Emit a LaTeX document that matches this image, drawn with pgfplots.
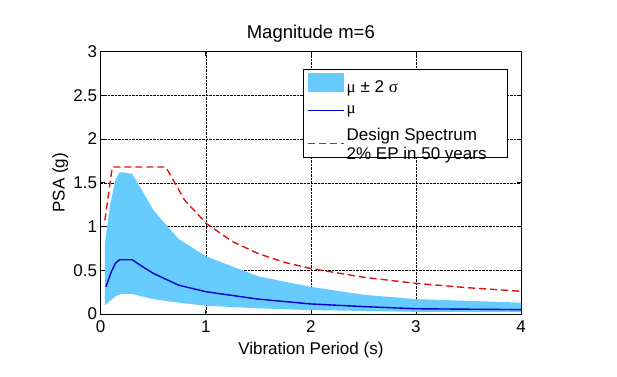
\documentclass[border=0pt]{standalone}
\usepackage{pgfplots}
\pgfplotsset{compat=1.18}
\usepackage{fontspec}
\setmainfont{Liberation Sans}
\newfontfamily\grk{Liberation Serif}
\newcommand{\lf}{\fontsize{17}{19}\selectfont}
\definecolor{band}{RGB}{102,204,255}
\definecolor{meanblue}{RGB}{0,0,205}
\definecolor{dsred}{RGB}{220,20,20}
\begin{document}
\begin{tikzpicture}
\useasboundingbox (-100.7pt,-62pt) rectangle (516.3pt,314pt);
\begin{axis}[
  at={(0pt,0pt)}, anchor=south west,
  scale only axis, width=420.3pt, height=262.5pt,
  xmin=0, xmax=4, ymin=0, ymax=3,
  xtick={0,1,2,3,4}, ytick={0,0.5,1,1.5,2,2.5,3},
  tick align=inside, tick pos=both,
  major tick length=4pt,
  grid=major, major grid style={densely dotted, black, line width=0.5pt},
  axis line style={black, line width=0.8pt},
  tick style={black, line width=0.6pt},
  font=\fontsize{17}{20}\selectfont,
  /pgf/number format/assume math mode=true,
  ticklabel style={font=\fontsize{17}{20}\selectfont},
  xticklabel style={anchor=base, yshift=-18pt},
  yticklabel style={inner sep=0pt, xshift=-3.4pt},
  title={Magnitude m=6},
  title style={font=\fontsize{18.5}{22}\selectfont, at={(axis description cs:0.5,1)}, anchor=base, yshift=7.5pt},
  xlabel={Vibration Period (s)},
  ylabel={PSA (g)},
  xlabel style={at={(axis description cs:0.5,0)}, anchor=base, yshift=-40pt},
  ylabel style={at={(axis description cs:-0.0857,0.5)}, anchor=base},
  legend style={at={(0.969,0.933)}, anchor=north east, draw=black, line width=0.8pt,
    row sep=8pt, inner sep=4pt},
  legend cell align=left,
  legend image code/.code={\draw[#1] (0pt,0pt) -- (36pt,0pt);},
]
\addplot[fill=band, draw=none,
  legend image code/.code={\fill[band] (0pt,-5.5pt) rectangle (36pt,13.5pt);}] coordinates {
 (0.04,0.81) (0.09,1.25) (0.14,1.53) (0.18,1.62) (0.22,1.62) (0.3,1.60) (0.4,1.40) (0.5,1.19) (0.6,1.05) (0.74,0.86) (1.0,0.66) (1.5,0.43) (2.0,0.31) (2.5,0.22) (3.0,0.17) (4.0,0.13)
 (4.0,0.02) (3.0,0.025) (2.0,0.045) (1.5,0.065) (1.0,0.095) (0.74,0.13) (0.5,0.17) (0.3,0.23) (0.2,0.23) (0.15,0.21) (0.1,0.16) (0.04,0.10)};
\addlegendentry{\lf{\grk μ} ± 2 {\grk σ}}
\addplot[meanblue, line width=1.4pt] coordinates {
 (0.05,0.31) (0.1,0.48) (0.14,0.58) (0.18,0.62) (0.3,0.62) (0.4,0.54) (0.5,0.465) (0.74,0.33) (1.0,0.255) (1.5,0.17) (2.0,0.115) (2.5,0.085) (3.0,0.06) (4.0,0.05)};
\addlegendentry{\lf{\grk μ}}
\addplot[dsred, line width=1.4pt, dash pattern=on 7pt off 4pt,
  legend image code/.code={\draw[dsred, line width=1.4pt, dash pattern=on 7pt off 4pt] (0pt,-4pt) -- (36pt,-4pt);}] coordinates {
 (0.04,1.07) (0.11,1.68) (0.62,1.68) (0.8,1.30) (1.0,1.04) (1.25,0.83) (1.5,0.69) (1.75,0.59) (2.0,0.52) (2.5,0.42) (3.0,0.35) (3.5,0.30) (4.0,0.26)};
\addlegendentry{\lf\begin{tabular}{@{}l@{\hspace{15pt}}}Design Spectrum\\2\% EP in 50 years\end{tabular}}
\end{axis}
\end{tikzpicture}
\end{document}
